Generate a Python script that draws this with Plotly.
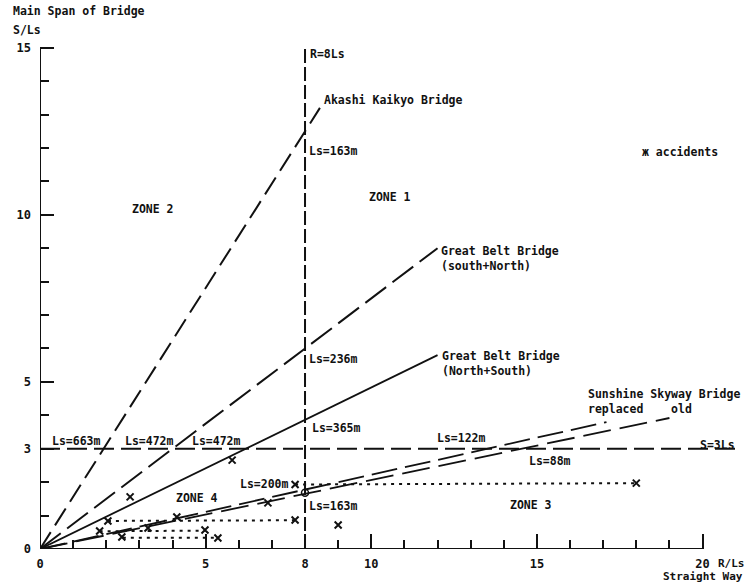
import plotly.graph_objects as go

# ---------------- data ----------------
# reference lines
R_LINE_X = 8.0            # R = 8Ls
R_LINE_Y = [0.0, 15.0]
S_LINE_Y = 3.0            # S = 3Ls
S_LINE_X = [0.0, 21.0]

akashi_x = [0.0, 8.45]
akashi_y = [0.0, 13.2]
gb_sn_x = [0.0, 12.0]      # Great Belt (south+North)
gb_sn_y = [0.0, 9.0]
gb_ns_x = [0.0, 12.0]      # Great Belt (North+South)
gb_ns_y = [0.0, 5.8]
ssb_rep_x = [0.0, 17.1]    # Sunshine Skyway replaced
ssb_rep_y = [0.0, 3.8]
ssb_old_x = [0.0, 19.0]    # Sunshine Skyway old
ssb_old_y = [0.0, 3.92]

# dotted accident spans
dot_a_x = [2.05, 7.7]
dot_a_y = [0.84, 0.86]
dot_b_x = [1.8, 5.0]
dot_b_y = [0.53, 0.55]
dot_c_x = [2.5, 5.4]
dot_c_y = [0.34, 0.34]
dot_d_x = [7.7, 18.0]
dot_d_y = [1.93, 1.97]

# accident markers
acc_x = [2.05, 1.8, 2.47, 4.13, 2.72, 3.26, 4.98, 5.37, 6.88, 7.7, 7.7, 9.0, 5.8, 18.0]
acc_y = [0.84, 0.54, 0.36, 0.96, 1.56, 0.63, 0.57, 0.33, 1.38, 0.87, 1.93, 0.72, 2.66, 1.97]

circle_x = [8.0]
circle_y = [1.68]

x_major = [0, 5, 8, 10, 15, 20]
x_major_text = ["0", "5", "8", "10", "15", "20"]
x_minor = [1, 2, 3, 4, 6, 7, 9, 11, 12, 13, 14, 16, 17, 18, 19]
y_major = [0, 3, 5, 10, 15]
y_major_text = ["0", "3", "5", "10", "15"]
y_minor = [1, 2, 4, 6, 7, 8, 9, 11, 12, 13, 14]

X_RANGE = [0, 21.1]
Y_RANGE = [0, 15.5]

# text labels inside the plot: (text, x, y)
labels = [
    ("R=8Ls", 8.1, 14.82),
    ("Akashi Kaikyo Bridge", 8.5, 13.44),
    ("Ls=163m", 8.05, 11.9),
    ("ZONE 2", 2.71, 10.18),
    ("ZONE 1", 9.86, 10.54),
    ("ж accidents", 18.1, 11.89),
    ("Ls=236m", 8.05, 5.69),
    ("Ls=365m", 8.14, 3.62),
    ("Ls=663m", 0.3, 3.22),
    ("Ls=472m", 2.5, 3.23),
    ("Ls=472m", 4.52, 3.23),
    ("Ls=122m", 11.92, 3.32),
    ("Ls=88m", 14.69, 2.63),
    ("S=3Ls", 19.85, 3.1),
    ("Ls=200m", 5.97, 1.95),
    ("Ls=163m", 8.05, 1.29),
    ("ZONE 4", 4.04, 1.53),
    ("ZONE 3", 14.12, 1.32),
]
# labels outside the axis ranges: (text, x, y, xanchor, yanchor)
outer_labels = [
    ("Main Span of Bridge", -0.85, 16.1, "left", "middle"),
    ("S/Ls", -0.85, 15.52, "left", "middle"),
    ("R/Ls", 20.45, -0.44, "left", "middle"),
    ("Straight Way", 21.25, -1.047, "right", "bottom"),
]
multi_labels = [
    ("Great Belt Bridge<br>(south+North)", 12.04, 9.2),
    ("Great Belt Bridge<br>(North+South)", 12.07, 6.05),
    ("Sunshine Skyway Bridge<br>replaced    old", 16.47, 4.92),
]

INK = "#111111"
FONT = "DejaVu Sans Mono"
FS = 11.5

fig = go.Figure()

def line(x, y, dash, width=2.0):
    fig.add_trace(go.Scatter(x=x, y=y, mode="lines",
                             line=dict(color=INK, width=width, dash=dash),
                             hoverinfo="skip", showlegend=False))

line([R_LINE_X, R_LINE_X], R_LINE_Y, "14px,4px", 2.0)
line(S_LINE_X, [S_LINE_Y, S_LINE_Y], "20px,7px", 1.8)
line(akashi_x, akashi_y, "20px,8px", 2.0)
line(gb_sn_x, gb_sn_y, "26px,8px", 2.0)
line(gb_ns_x, gb_ns_y, "solid", 1.8)
line(ssb_rep_x, ssb_rep_y, "26px,8px", 1.8)
line(ssb_old_x, ssb_old_y, "28px,9px", 1.8)
for dx, dy in [(dot_a_x, dot_a_y), (dot_b_x, dot_b_y), (dot_c_x, dot_c_y), (dot_d_x, dot_d_y)]:
    line(dx, dy, "3px,5px", 2.0)

fig.add_trace(go.Scatter(x=acc_x, y=acc_y, mode="markers",
                         marker=dict(symbol="x-thin", size=7, color=INK,
                                     line=dict(color=INK, width=2)),
                         hoverinfo="skip", showlegend=False))
fig.add_trace(go.Scatter(x=circle_x, y=circle_y, mode="markers",
                         marker=dict(symbol="circle-open", size=7, color=INK,
                                     line=dict(color=INK, width=1.5)),
                         hoverinfo="skip", showlegend=False))

# axis lines
fig.add_shape(type="line", xref="x", yref="y", x0=0, y0=0, x1=x_major[-1], y1=0,
              line=dict(color=INK, width=2))
fig.add_shape(type="line", xref="x", yref="y", x0=0, y0=0, x1=0, y1=y_major[-1],
              line=dict(color=INK, width=2))

tfont = dict(family=FONT, size=FS, color=INK, weight="bold")
sfont = dict(family=FONT, size=11, color=INK, weight="bold")
for t, x, y in labels:
    fig.add_annotation(text=t, x=x, y=y, xref="x", yref="y", xanchor="left", yanchor="middle",
                       showarrow=False, font=tfont)
for t, x, y in multi_labels:
    fig.add_annotation(text=t, x=x, y=y, xref="x", yref="y", xanchor="left", yanchor="top",
                       align="left", showarrow=False, font=tfont)

def to_paper(v, rng):
    return (v - rng[0]) / (rng[1] - rng[0])

for t, x, y, xa, ya in outer_labels:
    fig.add_annotation(text=t, x=to_paper(x, X_RANGE), y=to_paper(y, Y_RANGE),
                       xref="paper", yref="paper", xanchor=xa, yanchor=ya,
                       showarrow=False, borderpad=0,
                       font=(tfont if y > 0 else sfont))

fig.update_xaxes(range=X_RANGE, showgrid=False, zeroline=False, showline=False,
                 tickmode="array", tickvals=x_major, ticktext=x_major_text,
                 ticks="inside", ticklen=15, tickwidth=2, tickcolor=INK,
                 ticklabelstandoff=6, automargin=False,
                 tickfont=dict(family=FONT, size=12, color=INK, weight="bold"),
                 minor=dict(tickmode="array", tickvals=x_minor, ticks="inside",
                            ticklen=9, tickwidth=2, tickcolor=INK))
fig.update_yaxes(range=Y_RANGE, showgrid=False, zeroline=False, showline=False,
                 tickmode="array", tickvals=y_major, ticktext=y_major_text,
                 ticks="inside", ticklen=14, tickwidth=2, tickcolor=INK,
                 ticklabelstandoff=8, automargin=False,
                 tickfont=dict(family=FONT, size=12, color=INK, weight="bold"),
                 minor=dict(tickmode="array", tickvals=y_minor, ticks="inside",
                            ticklen=9, tickwidth=2, tickcolor=INK))

fig.update_layout(width=746, height=584, paper_bgcolor="white", plot_bgcolor="white",
                  margin=dict(l=40, r=7, t=31, b=35), showlegend=False)

# remove the default 8px page margin so the figure fills the window exactly
fig.write_html("out.html", config={"displayModeBar": False},
               post_script="document.body.style.margin='0px';document.body.style.overflow='hidden';")
